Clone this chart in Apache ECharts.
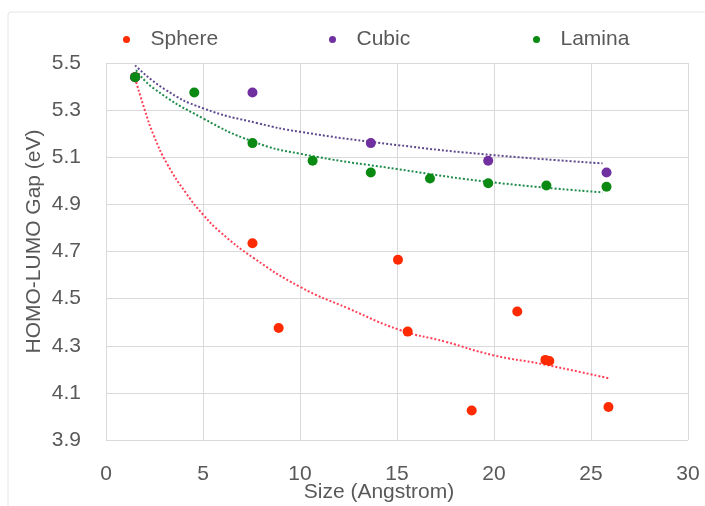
<!DOCTYPE html>
<html>
<head>
<meta charset="utf-8">
<script src="https://cdn.jsdelivr.net/npm/echarts@6/dist/echarts.min.js"></script>
<style type="text/css">
	html, body { margin: 0; padding: 0; background: #fff; }
	#chart { width: 705px; height: 506px; }
</style>
</head>
<body>
<div id="chart"></div>
<script type="text/javascript">
// measured points
var sphereX = [1.5, 7.55, 8.9, 15.05, 15.55, 18.85, 21.2, 22.65, 22.85, 25.9];
var sphereY = [5.44, 4.735, 4.375, 4.665, 4.36, 4.025, 4.445, 4.24, 4.235, 4.04];
var cubicX = [1.5, 7.55, 13.65, 19.7, 25.8];
var cubicY = [5.44, 5.375, 5.16, 5.085, 5.035];
var laminaX = [1.5, 4.55, 7.55, 10.65, 13.65, 16.7, 19.7, 22.7, 25.8];
var laminaY = [5.44, 5.375, 5.16, 5.085, 5.035, 5.01, 4.99, 4.98, 4.975];

// trend lines
var sphereTrendX = [1.5, 2.0, 2.45, 3.15, 4.15, 5, 5.9, 7.6, 10, 12.5, 15.15, 17.5, 19.95, 22.5, 25.9];
var sphereTrendY = [5.435, 5.30, 5.195, 5.072, 4.945, 4.857, 4.782, 4.673, 4.55, 4.458, 4.367, 4.317, 4.26, 4.222, 4.162];
var cubicTrendX = [1.5, 3, 5, 7.85, 10, 15, 20, 25.6];
var cubicTrendY = [5.49, 5.39, 5.308, 5.244, 5.208, 5.152, 5.109, 5.074];
var laminaTrendX = [1.55, 2.45, 5, 7.6, 10, 15, 20, 25.6];
var laminaTrendY = [5.47, 5.393, 5.265, 5.166, 5.115, 5.05, 4.993, 4.951];

var xTicks = [0, 30, 5];
var yTicks = [3.9, 5.5, 0.2];
var legendNames = ['Sphere', 'Cubic', 'Lamina'];

function pairs(xs, ys) {
	var out = [];
	for (var i = 0; i < xs.length; i++) {
		out.push([xs[i], ys[i]]);
	}
	return out;
}

var fontName = '"Liberation Sans", Arial, sans-serif';
var textColor = '#595959';

function legendAt(name, left) {
	return {
		top: 24,
		left: left,
		itemWidth: 38,
		itemHeight: 7,
		icon: 'circle',
		data: [name],
		textStyle: {
			color: textColor,
			fontSize: 21,
			fontFamily: fontName
		}
	};
}

var myChart = echarts.init(document.getElementById('chart'));
var option = {
	backgroundColor: '#fff',
	animation: false,
	graphic: [{
		type: 'rect',
		shape: { x: 8, y: 12, width: 720, height: 520, r: 3 },
		style: { fill: 'none', stroke: '#e6e6e6', lineWidth: 1 },
		silent: true
	}],
	legend: [
		legendAt(legendNames[0], 118),
		legendAt(legendNames[1], 324),
		legendAt(legendNames[2], 528)
	],
	grid: {
		left: 106,
		right: 17,
		top: 63,
		bottom: 66,
		outerBoundsMode: 'none',
		containLabel: false
	},
	xAxis: {
		type: 'value',
		min: xTicks[0],
		max: xTicks[1],
		interval: xTicks[2],
		name: 'Size (Angstrom)',
		nameLocation: 'middle',
		nameGap: 42,
		nameMoveOverlap: false,
		nameTextStyle: {
			color: textColor,
			fontSize: 21,
			fontFamily: fontName,
			padding: [0, 36, 0, 0]
		},
		axisLine: { show: false },
		axisTick: { show: false },
		axisLabel: {
			color: textColor,
			fontSize: 21,
			fontFamily: fontName,
			margin: 24
		},
		splitLine: { show: true, lineStyle: { color: '#d9d9d9', width: 1 } }
	},
	yAxis: {
		type: 'value',
		min: yTicks[0],
		max: yTicks[1],
		interval: yTicks[2],
		name: 'HOMO-LUMO Gap (eV)',
		nameLocation: 'middle',
		nameGap: 61,
		nameMoveOverlap: false,
		nameTextStyle: {
			color: textColor,
			fontSize: 21,
			fontFamily: fontName,
			padding: [0, 0, 0, 20]
		},
		axisLine: { show: false },
		axisTick: { show: false },
		axisLabel: {
			color: textColor,
			fontSize: 21,
			fontFamily: fontName,
			margin: 25,
			formatter: function (v) { return v.toFixed(1); }
		},
		splitLine: { show: true, lineStyle: { color: '#d9d9d9', width: 1 } }
	},
	series: [
		{
			name: 'Sphere trend',
			type: 'line',
			smooth: true,
			showSymbol: false,
			data: pairs(sphereTrendX, sphereTrendY),
			lineStyle: { color: '#ff4057', width: 2, type: [2, 2] },
			z: 1
		},
		{
			name: 'Cubic trend',
			type: 'line',
			smooth: true,
			showSymbol: false,
			data: pairs(cubicTrendX, cubicTrendY),
			lineStyle: { color: '#5e4a8e', width: 2, type: [2, 2] },
			z: 1
		},
		{
			name: 'Lamina trend',
			type: 'line',
			smooth: true,
			showSymbol: false,
			data: pairs(laminaTrendX, laminaTrendY),
			lineStyle: { color: '#1e8c4a', width: 2, type: [2, 2] },
			z: 1
		},
		{
			name: 'Sphere',
			type: 'scatter',
			symbolSize: 10,
			data: pairs(sphereX, sphereY),
			itemStyle: { color: '#ff2a00', opacity: 1 },
			z: 2
		},
		{
			name: 'Cubic',
			type: 'scatter',
			symbolSize: 10,
			data: pairs(cubicX, cubicY),
			itemStyle: { color: '#7030a0', opacity: 1 },
			z: 3
		},
		{
			name: 'Lamina',
			type: 'scatter',
			symbolSize: 10,
			data: pairs(laminaX, laminaY),
			itemStyle: { color: '#0a8a12', opacity: 1 },
			z: 4
		}
	]
};
myChart.setOption(option);
</script>
</body>
</html>
